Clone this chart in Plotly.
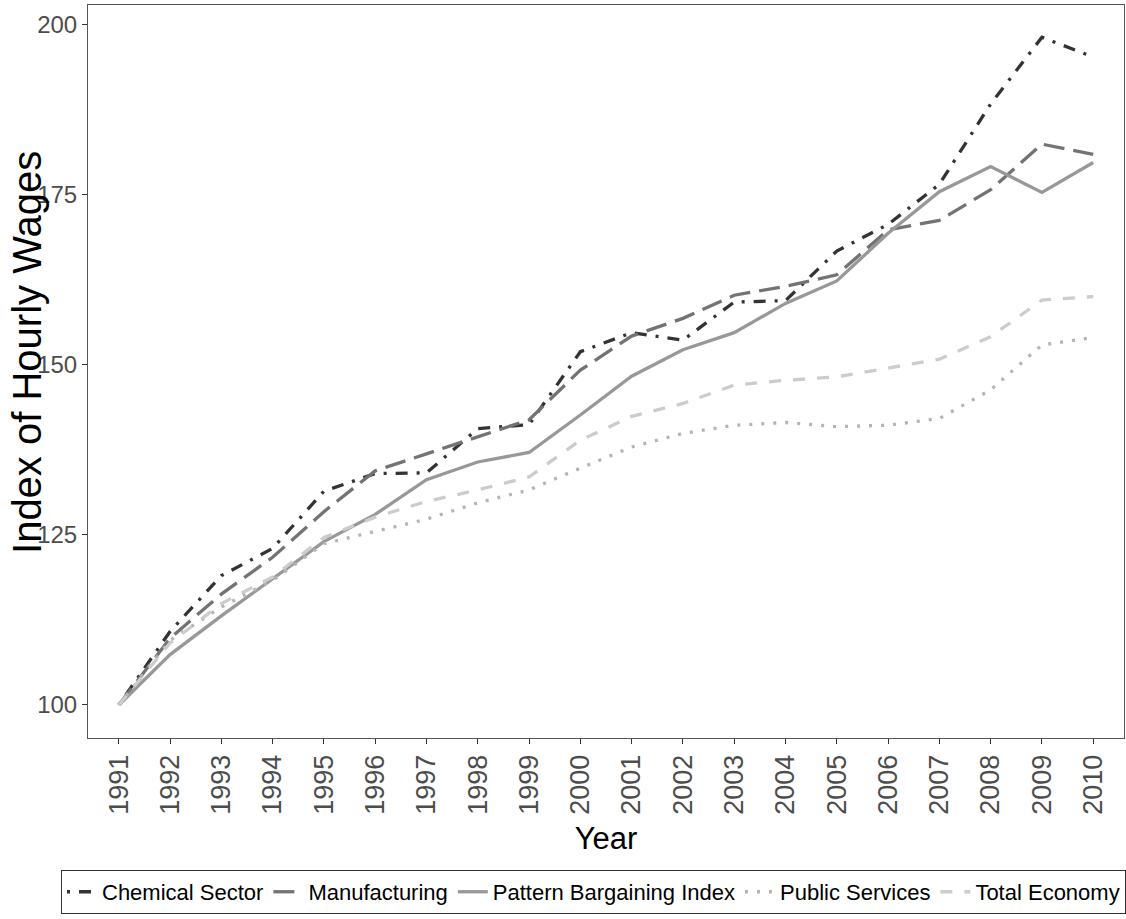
import plotly.graph_objects as go

years = list(range(1991, 2011))

chemical = [100, 110.8, 119.0, 123.0, 131.4, 134.0, 134.1, 140.6, 141.2, 151.9,
            154.7, 153.6, 159.2, 159.4, 166.7, 170.6, 176.5, 188.3, 198.1, 195.2]
manufacturing = [100, 109.8, 116.3, 121.7, 128.4, 134.4, 136.9, 139.4, 141.9, 149.2,
                 154.2, 156.8, 160.2, 161.5, 163.2, 169.8, 171.2, 175.7, 182.4, 180.9]
pattern = [100, 107.4, 113.1, 118.6, 124.0, 128.0, 133.1, 135.7, 137.1, 142.6,
           148.3, 152.2, 154.7, 159.0, 162.3, 169.3, 175.4, 179.1, 175.3, 179.7]
public = [100, 109.5, 114.4, 118.3, 123.7, 125.5, 127.3, 129.7, 131.6, 134.8,
          137.9, 139.9, 141.1, 141.5, 140.9, 141.1, 142.1, 146.3, 152.9, 154.0]
total = [100, 109.1, 114.9, 118.8, 124.6, 127.6, 129.9, 131.6, 133.5, 138.9,
         142.4, 144.3, 147.0, 147.7, 148.2, 149.5, 150.8, 154.1, 159.5, 160.0]

series = [
    ("Chemical Sector", chemical, "#333333", "3px,9px,12px,9px"),
    ("Manufacturing", manufacturing, "#737373", "21px,9px"),
    ("Pattern Bargaining Index", pattern, "#989898", "solid"),
    ("Public Services", public, "#B4B4B4", "3px,9px"),
    ("Total Economy", total, "#CCCCCC", "12px,12px"),
]

fig = go.Figure()
for name, vals, color, dash in series:
    fig.add_trace(go.Scatter(
        x=years, y=vals, mode="lines", name=name,
        line=dict(color=color, width=3.3, dash=dash),
    ))

font_family = "Liberation Sans, Arial, sans-serif"

fig.update_layout(
    width=1126, height=919,
    margin=dict(l=88, r=2, t=5, b=181),
    plot_bgcolor="white", paper_bgcolor="white",
    font=dict(family=font_family, color="black"),
    showlegend=True,
    legend=dict(
        orientation="h", x=-0.003, xanchor="left", y=-0.180, yanchor="top",
        bordercolor="#333333", borderwidth=1,
        font=dict(size=22, color="black", family=font_family),
        itemwidth=30, tracegroupgap=0,
    ),
    annotations=[dict(
        text="Index of Hourly Wages", textangle=-90,
        xref="paper", yref="paper", x=-0.0589, y=0.5266,
        xanchor="center", yanchor="middle", showarrow=False,
        font=dict(size=40, color="black", family=font_family),
    )],
)

fig.update_xaxes(
    range=[1990.4, 2010.6],
    tickmode="array", tickvals=years, ticktext=[str(y) for y in years],
    tickangle=-90,
    tickfont=dict(size=27, color="#4D4D4D"),
    ticks="outside", ticklen=5, tickcolor="#333333", tickwidth=1,
    showgrid=False, zeroline=False,
    showline=True, linecolor="#555555", linewidth=1, mirror=True,
    title=dict(text="Year", font=dict(size=31, color="black"), standoff=13),
)
fig.update_yaxes(
    range=[95.15, 202.84],
    tickmode="array", tickvals=[100, 125, 150, 175, 200],
    tickfont=dict(size=24, color="#4D4D4D"),
    ticks="outside", ticklen=5, tickcolor="#333333", tickwidth=1,
    showgrid=False, zeroline=False,
    showline=True, linecolor="#555555", linewidth=1, mirror=True,
)

fig.write_html("out.html", config={"displayModeBar": False},
               post_script="document.body.style.margin='0px';")
